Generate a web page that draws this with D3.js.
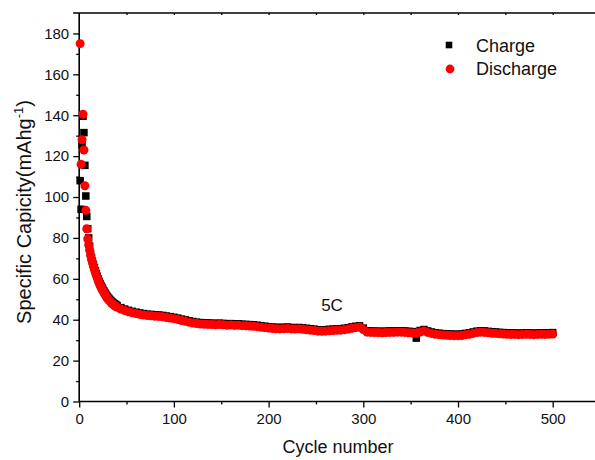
<!DOCTYPE html>
<html><head><meta charset="utf-8">
<script src="https://cdn.jsdelivr.net/npm/d3@7"></script>
<style>
html,body{margin:0;padding:0;background:#fff;}
svg{display:block;font-family:"Liberation Sans",Arial,Helvetica,sans-serif;}
</style></head><body>
<svg id="chart" width="595" height="460"></svg>
<script>
// Cycle numbers: every cycle through 40, then every 4th cycle up to 500
const cycles = d3.range(1, 41).concat(d3.range(44, 501, 4));

// Specific capacity (mAh/g) per cycle
const chargeCapacity = [
  108, 94, 125.5, 139.5, 131.5, 115.5, 100.5, 90.5, 84.5, 80, 76, 72.5,
  70.3, 68.6, 67.0, 65.5, 64.0, 62.6, 61.3, 60.0, 58.8, 57.7, 56.7, 55.8, 54.9, 54.1,
  53.3, 52.5, 51.8, 51.1, 50.5, 50.0, 49.5, 49.0, 48.6, 48.2, 47.8, 47.5, 47.2, 46.9,
  45.9, 45.2, 44.6, 44.1, 43.7, 43.3, 43.0, 42.7, 42.6, 42.4,
  42.3, 42.1, 41.8, 41.5, 41.2, 40.8, 40.3, 39.9, 39.5, 39.1,
  38.8, 38.6, 38.5, 38.4, 38.3, 38.2, 38.3, 38.2, 38.0, 38.1,
  37.9, 38.0, 37.8, 37.7, 37.6, 37.5, 37.3, 37.0, 36.8, 36.6,
  36.4, 36.3, 36.2, 36.3, 36.4, 36.2, 36.1, 36.2, 36.0, 35.8,
  35.6, 35.4, 35.1, 35.0, 35.1, 35.3, 35.4, 35.5, 35.6, 35.8,
  36.1, 36.5, 36.8, 37.0, 35.9, 34.6, 34.5, 34.4, 34.4, 34.3,
  34.4, 34.5, 34.5, 34.6, 34.6, 34.5, 34.3, 34.2, 31.0, 34.7,
  35.2, 34.5, 34.0, 33.6, 33.4, 33.2, 33.1, 33.0, 32.9, 32.9,
  33.0, 33.3, 33.6, 34.0, 34.4, 34.6, 34.5, 34.3, 34.1, 34.0,
  33.8, 33.7, 33.6, 33.5, 33.5, 33.4, 33.5, 33.6, 33.5, 33.4,
  33.5, 33.6, 33.5, 33.6, 33.7
];
const dischargeCapacity = [
  175, 116, 128, 140.5, 123, 105.5, 93.5, 84.5, 79.5, 76.5, 74, 71.5,
  69.5, 67.8, 66.2, 64.7, 63.2, 61.8, 60.5, 59.2, 58.0, 56.9, 55.9, 55.0, 54.1, 53.3,
  52.5, 51.7, 51.0, 50.3, 49.7, 49.2, 48.7, 48.2, 47.8, 47.4, 47.0, 46.7, 46.4, 46.1,
  45.2, 44.5, 43.9, 43.4, 43.0, 42.6, 42.3, 42.0, 41.9, 41.7,
  41.6, 41.4, 41.1, 40.8, 40.5, 40.1, 39.6, 39.2, 38.8, 38.4,
  38.1, 37.9, 37.8, 37.7, 37.6, 37.5, 37.6, 37.5, 37.3, 37.4,
  37.2, 37.3, 37.1, 37.0, 36.9, 36.8, 36.6, 36.3, 36.1, 35.9,
  35.7, 35.6, 35.5, 35.6, 35.7, 35.5, 35.4, 35.5, 35.3, 35.1,
  34.9, 34.7, 34.4, 34.3, 34.4, 34.6, 34.7, 34.8, 34.9, 35.1,
  35.4, 35.8, 36.1, 36.3, 35.2, 33.9, 33.8, 33.7, 33.7, 33.6,
  33.7, 33.8, 33.8, 33.9, 33.9, 33.8, 33.6, 33.5, 33.4, 34.0,
  34.5, 33.8, 33.3, 32.9, 32.7, 32.5, 32.4, 32.3, 32.2, 32.2,
  32.3, 32.6, 32.9, 33.3, 33.7, 33.9, 33.8, 33.6, 33.4, 33.3,
  33.1, 33.0, 32.9, 32.8, 32.8, 32.7, 32.8, 32.9, 32.8, 32.7,
  32.8, 32.9, 32.8, 32.9, 33.0
];

const xMajorTicks = [0, 100, 200, 300, 400, 500];
const xMinorTicks = [50, 150, 250, 350, 450, 550];
const yMajorTicks = [0, 20, 40, 60, 80, 100, 120, 140, 160, 180];
const yMinorTicks = [10, 30, 50, 70, 90, 110, 130, 150, 170];
const seriesNames = ["Charge", "Discharge"];
const seriesColors = ["#000000", "#ff0000"];
const rateLabel = "5C";

const svg = d3.select("#chart");

const x = d3.scaleLinear().domain([0, 500]).range([79.2, 552.7]);
const y = d3.scaleLinear().domain([0, 190]).range([401.5, 13]);
const xEnd = x(560);

const frame = svg.append("g").attr("class", "frame");

// bottom axis with major labelled ticks and short minor ticks
const bottomAxis = frame.append("g").attr("transform", `translate(0,${y(0)})`)
  .call(d3.axisBottom(x).tickValues(xMajorTicks).tickSize(6).tickPadding(6).tickFormat(d3.format("d")));
frame.append("g").attr("transform", `translate(0,${y(0)})`)
  .call(d3.axisBottom(x).tickValues(xMinorTicks).tickSize(3).tickFormat(""))
  .select(".domain").remove();
bottomAxis.select(".domain").attr("d", `M${x(0)},0H${xEnd}`);

// left axis
const leftAxis = frame.append("g").attr("transform", `translate(${x(0)},0)`)
  .call(d3.axisLeft(y).tickValues(yMajorTicks).tickSize(6).tickPadding(4).tickFormat(d3.format("d")));
frame.append("g").attr("transform", `translate(${x(0)},0)`)
  .call(d3.axisLeft(y).tickValues(yMinorTicks).tickSize(3).tickFormat(""))
  .select(".domain").remove();
leftAxis.select(".domain").attr("d", `M0,${y(0)}V${y(190)}`);

// top border with small inward ticks
const topBorder = frame.append("g").attr("transform", `translate(0,${y(190)})`)
  .call(d3.axisBottom(x).tickValues(xMinorTicks.concat(xMajorTicks.slice(1))).tickSize(2).tickFormat(""));
topBorder.select(".domain").attr("d", `M${x(0) - 6},0H${xEnd}`);

frame.selectAll(".domain").attr("stroke", "#000").attr("stroke-width", 1.6);
frame.selectAll(".tick line").attr("stroke", "#000").attr("stroke-width", 1.3);
frame.selectAll(".tick text").attr("font-size", 15).attr("fill", "#111")
  .attr("font-family", '"Liberation Sans",Arial,sans-serif');

// data markers: charge squares below, discharge circles on top
const chargePts = cycles.map((c, i) => ({ c, v: chargeCapacity[i] }));
const dischargePts = cycles.map((c, i) => ({ c, v: dischargeCapacity[i] }));
const sq = 7.5;
svg.append("g").attr("fill", seriesColors[0])
  .selectAll("rect").data(chargePts).join("rect")
  .attr("x", d => x(d.c) - sq / 2).attr("y", d => y(d.v) - sq / 2)
  .attr("width", sq).attr("height", sq);
svg.append("g").attr("fill", seriesColors[1])
  .selectAll("circle").data(dischargePts).join("circle")
  .attr("cx", d => x(d.c)).attr("cy", d => y(d.v)).attr("r", 4.5);

// axis titles
svg.append("text").attr("x", 338).attr("y", 453).attr("text-anchor", "middle")
  .attr("font-size", 18).attr("fill", "#111").text("Cycle number");
const yTitle = svg.append("text").attr("transform", "translate(31,212) rotate(-90)")
  .attr("text-anchor", "middle").attr("font-size", 20).attr("fill", "#111");
yTitle.append("tspan").text("Specific Capicity(mAhg");
yTitle.append("tspan").attr("font-size", 13).attr("dy", -8).text("-1");
yTitle.append("tspan").attr("dy", 8).text(")");

// rate annotation
svg.append("text").attr("x", 332).attr("y", 311).attr("text-anchor", "middle")
  .attr("font-size", 17).attr("fill", "#111").text(rateLabel);

// legend
const legend = svg.append("g").attr("font-size", 18).attr("fill", "#111");
legend.append("rect").attr("x", 449 - 3.3).attr("y", 45 - 3.3).attr("width", 6.6).attr("height", 6.6).attr("fill", seriesColors[0]);
legend.append("circle").attr("cx", 450).attr("cy", 69).attr("r", 4.4).attr("fill", seriesColors[1]);
legend.append("text").attr("x", 476).attr("y", 51.5).text(seriesNames[0]);
legend.append("text").attr("x", 476).attr("y", 75).text(seriesNames[1]);
</script>
</body></html>
